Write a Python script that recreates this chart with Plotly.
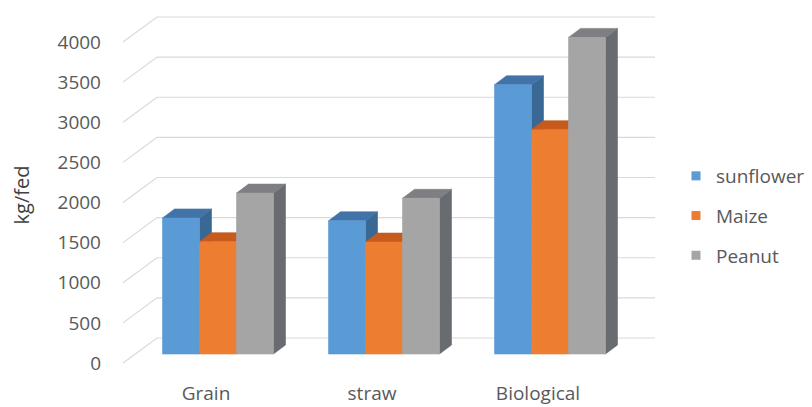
import plotly.graph_objects as go

# ---- data -------------------------------------------------------------
categories = ["Grain", "straw", "Biological"]
series_names = ["sunflower", "Maize", "Peanut"]
sunflower = [1695, 1660, 3355]
maize = [1400, 1395, 2795]
peanut = [2005, 1940, 3945]
y_ticks = [0, 500, 1000, 1500, 2000, 2500, 3000, 3500, 4000]

values = [sunflower, maize, peanut]

# ---- styling ----------------------------------------------------------
FONT = "Open Sans"
TEXT = "#595959"
GRID = "#d9d9d9"
front_cols = ["#5B9BD5", "#ED7D31", "#A5A5A5"]
top_cols = ["#4273A8", "#C65B1D", "#7D7F82"]
side_cols = ["#3A6895", "#B0511A", "#686C70"]

W, H = 812, 407
M_L, M_R, M_T, M_B = 110, 12, 10, 27
PX_PER_UNIT = 321 / 4000.0          # vertical scale of the value axis
ZERO_PX = 363                        # pixel row of the 0 tick label

plot_h = H - M_T - M_B
plot_w = W - M_L - M_R
y_top = (ZERO_PX - M_T) / PX_PER_UNIT
y_bot = y_top - plot_h / PX_PER_UNIT

# oblique projection: depth moves right and up
WALL_DX, WALL_DY = 34, 25 / PX_PER_UNIT     # full floor depth
BAR_DX, BAR_DY = 12, 9 / PX_PER_UNIT        # depth of one bar (and front offset)
FLOOR_X0 = 123
SLOT = 166
FLOOR_X1 = FLOOR_X0 + SLOT * len(categories)
BAR_W = 37

fig = go.Figure()

# back wall gridlines with the diagonal edge on the side wall
gx, gy = [], []
for t in y_ticks:
    gx += [FLOOR_X0, FLOOR_X0 + WALL_DX, FLOOR_X1 + WALL_DX, None]
    gy += [t, t + WALL_DY, t + WALL_DY, None]
fig.add_trace(go.Scatter(x=gx, y=gy, mode="lines", line=dict(color=GRID, width=1.2),
                         hoverinfo="skip", showlegend=False))


def poly(xs, ys):
    return xs + [xs[0], None], ys + [ys[0], None]


# bars: side, top and front faces, left to right so nearer faces cover
for s, vals in enumerate(values):
    sx, sy, tx, ty, fx, fy = [], [], [], [], [], []
    for i, v in enumerate(vals):
        centre = FLOOR_X0 + SLOT * i + SLOT / 2 + BAR_DX
        x0 = centre - 1.5 * BAR_W + s * BAR_W
        x1 = x0 + BAR_W
        b = BAR_DY          # bar base sits one bar-depth behind the floor edge
        top = b + v
        px, py = poly([x1, x1, x1 + BAR_DX, x1 + BAR_DX],
                      [b, top, top + BAR_DY, b + BAR_DY])
        sx += px; sy += py
        px, py = poly([x0, x1, x1 + BAR_DX, x0 + BAR_DX],
                      [top, top, top + BAR_DY, top + BAR_DY])
        tx += px; ty += py
        px, py = poly([x0, x1, x1, x0], [b, b, top, top])
        fx += px; fy += py
    for xs, ys, col in ((sx, sy, side_cols[s]), (tx, ty, top_cols[s]), (fx, fy, front_cols[s])):
        fig.add_trace(go.Scatter(x=xs, y=ys, mode="lines", fill="toself", fillcolor=col,
                                 line=dict(color=col, width=0.6), hoverinfo="skip",
                                 showlegend=False))

# legend entries
for s, name in enumerate(series_names):
    fig.add_trace(go.Scatter(x=[None], y=[None], mode="markers", name=name,
                             legendgroup=name,
                             marker=dict(symbol="square", size=9, color=front_cols[s])))

fig.update_layout(
    width=W, height=H,
    margin=dict(l=M_L, r=M_R, t=M_T, b=M_B, autoexpand=False),
    paper_bgcolor="white", plot_bgcolor="white",
    font=dict(family=FONT, size=19, color=TEXT),
    showlegend=True,
    legend=dict(x=(676 - M_L) / plot_w, xanchor="left",
                y=(H - M_B - 157) / plot_h, yanchor="top",
                font=dict(family=FONT, size=19, color=TEXT),
                tracegroupgap=12, bgcolor="rgba(0,0,0,0)"),
    xaxis=dict(range=[M_L, W - M_R], showgrid=False, zeroline=False, showline=False,
               tickmode="array",
               tickvals=[FLOOR_X0 + SLOT * i + SLOT / 2 for i in range(len(categories))],
               ticktext=categories, ticks="", fixedrange=True,
               tickfont=dict(family=FONT, size=19, color=TEXT)),
    yaxis=dict(range=[y_bot, y_top], showgrid=False, zeroline=False, showline=False,
               tickmode="array", tickvals=y_ticks, ticks="", ticklabelstandoff=8,
               tickfont=dict(family=FONT, size=19, color=TEXT),
               title=dict(text="kg/fed", font=dict(family=FONT, size=20, color="#404040"),
                          standoff=22),
               fixedrange=True),
)

fig.write_html("out.html")
